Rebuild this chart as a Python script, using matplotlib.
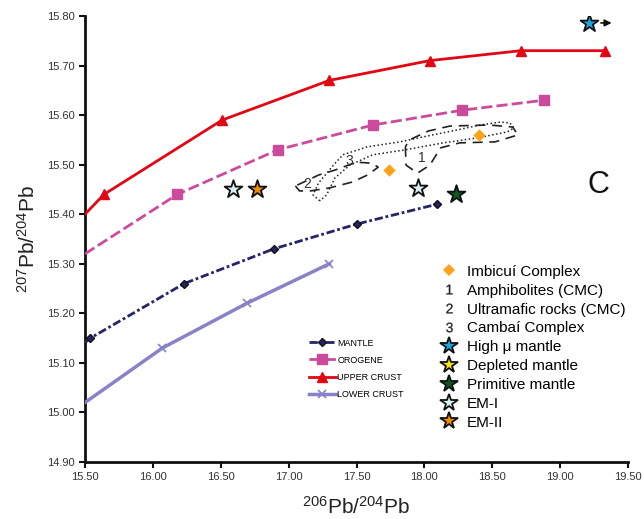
import matplotlib
matplotlib.use("Agg")
import matplotlib.pyplot as plt
from matplotlib.lines import Line2D
import numpy as np

plt.rcParams['font.family'] = ['Liberation Sans', 'DejaVu Sans']
plt.rcParams['mathtext.fontset'] = 'custom'
plt.rcParams['mathtext.rm'] = 'Liberation Sans'
plt.rcParams['mathtext.it'] = 'Liberation Sans'

# ---- model curves (206Pb/204Pb, 207Pb/204Pb) ----
mantle_x = [15.50, 15.54, 16.23, 16.89, 17.50, 18.09]
mantle_y = [15.141, 15.15, 15.26, 15.33, 15.38, 15.42]
orogene_x = [15.50, 16.18, 16.92, 17.62, 18.28, 18.88]
orogene_y = [15.32, 15.44, 15.53, 15.58, 15.61, 15.63]
upper_x = [15.50, 15.64, 16.51, 17.30, 18.04, 18.71, 19.33]
upper_y = [15.40, 15.44, 15.59, 15.67, 15.71, 15.73, 15.73]
lower_x = [15.50, 16.07, 16.69, 17.30]
lower_y = [15.02, 15.13, 15.22, 15.30]

# ---- samples / reservoirs ----
imbicui_x = [17.74, 18.40]
imbicui_y = [15.49, 15.56]
em1_x = [16.59, 17.95]
em1_y = [15.45, 15.453]
em2_x = [16.77]
em2_y = [15.45]
prim_x = [18.23]
prim_y = [15.44]
highmu_x = [19.21]
highmu_y = [15.786]

# ---- fields ----
f3_x = [17.23, 17.18, 17.22, 17.33, 17.40, 17.58, 17.82, 18.06, 18.24, 18.41, 18.56, 18.63,
        18.66, 18.61, 18.39, 18.14, 17.86, 17.62, 17.45, 17.34, 17.28, 17.23]
f3_y = [15.427, 15.439, 15.463, 15.499, 15.520, 15.536, 15.546, 15.560, 15.570, 15.580, 15.586, 15.584,
        15.574, 15.566, 15.554, 15.544, 15.530, 15.520, 15.499, 15.473, 15.439, 15.427]
f1_x = [17.86, 17.865, 17.95, 18.04, 18.12, 18.26, 18.52, 18.69, 18.65, 18.48, 18.19, 18.03, 17.89, 17.86]
f1_y = [15.536, 15.499, 15.483, 15.499, 15.534, 15.544, 15.546, 15.560, 15.576, 15.580, 15.578, 15.568, 15.550, 15.536]
f2_x = [17.05, 17.08, 17.16, 17.30, 17.47, 17.58, 17.66, 17.61, 17.50, 17.34, 17.22, 17.05]
f2_y = [15.457, 15.447, 15.447, 15.453, 15.465, 15.479, 15.495, 15.503, 15.505, 15.489, 15.479, 15.457]

xticks = [15.5, 16.0, 16.5, 17.0, 17.5, 18.0, 18.5, 19.0, 19.5]
yticks = [14.9, 15.0, 15.1, 15.2, 15.3, 15.4, 15.5, 15.6, 15.7, 15.8]

fig = plt.figure(figsize=(6.44, 5.19), dpi=100)
ax = fig.add_axes([85/644, 57/519, 543/644, 446/519])

c_mantle = '#23246a'
c_orog = '#cc4a9c'
c_upper = '#e30613'
c_lower = '#8783c8'

l_m, = ax.plot(mantle_x, mantle_y, color=c_mantle, lw=2, dashes=(3, 1, 1, 1),
               marker='D', ms=4.5, mfc=c_mantle, mec='#111', markevery=list(range(1, len(mantle_x))),
               label='MANTLE', zorder=3)
l_o, = ax.plot(orogene_x, orogene_y, color=c_orog, lw=2, dashes=(4, 1.5),
               marker='s', ms=6.5, mfc=c_orog, mec=c_orog, markevery=list(range(1, len(orogene_x))),
               label='OROGENE', zorder=3)
l_u, = ax.plot(upper_x, upper_y, color=c_upper, lw=2, marker='^', ms=7, mfc=c_upper, mec=c_upper,
               markevery=list(range(1, len(upper_x))), label='UPPER CRUST', zorder=3)
l_l, = ax.plot(lower_x, lower_y, color=c_lower, lw=2.5, marker='x', ms=6, mew=1.2,
               markevery=list(range(1, len(lower_x))), label='LOWER CRUST', zorder=3)

# fields
ax.plot(f3_x, f3_y, color='#222', lw=1.1, linestyle=(0, (1, 1.6)), zorder=2)
ax.plot(f1_x, f1_y, color='#222', lw=1.2, dashes=(6, 4), zorder=2)
ax.plot(f2_x, f2_y, color='#222', lw=1.2, dashes=(6, 4), zorder=2)
ax.text(17.45, 15.507, '3', fontsize=10, color='#333', ha='center', va='center')
ax.text(17.98, 15.513, '1', fontsize=10, color='#333', ha='center', va='center')
ax.text(17.14, 15.461, '2', fontsize=10, color='#333', ha='center', va='center')

ax.scatter(imbicui_x, imbicui_y, marker='D', s=40, color='#ffa21a', zorder=4, linewidths=0)
star = dict(marker='*', s=180, edgecolors='#111', linewidths=1.3, zorder=5)
ax.scatter(em1_x, em1_y, facecolors='#dbeef0', **star)
ax.scatter(em2_x, em2_y, facecolors='#f28c00', **star)
ax.scatter(prim_x, prim_y, facecolors='#0b5a22', **star)
ax.scatter(highmu_x, highmu_y, facecolors='#1aa6e0', **star)
ax.annotate('', xy=(highmu_x[0] + 0.19, highmu_y[0]), xytext=(highmu_x[0] + 0.07, highmu_y[0]),
            arrowprops=dict(arrowstyle='-|>', color='#111', lw=1.2, mutation_scale=10))

ax.text(19.28, 15.459, 'C', fontsize=22, color='#111', ha='center', va='center')

ax.set_xlim(15.5, 19.5)
ax.set_ylim(14.9, 15.8)
ax.set_xticks(xticks)
ax.set_yticks(yticks)
ax.set_xticklabels(['%.2f' % v for v in xticks])
ax.set_yticklabels(['%.2f' % v for v in yticks])
for s in ['top', 'right']:
    ax.spines[s].set_visible(False)
for s in ['left', 'bottom']:
    ax.spines[s].set_linewidth(2)
    ax.spines[s].set_color('#111')
ax.tick_params(axis='both', direction='out', length=4, width=1.5, labelsize=8, labelcolor='#333', color='#111')
ax.set_xlabel(r'$^{206}$Pb/$^{204}$Pb', fontsize=15, color='#222', labelpad=10)
ax.set_ylabel(r'$^{207}$Pb/$^{204}$Pb', fontsize=15, color='#222', labelpad=6)

leg1 = ax.legend(handles=[l_m, l_o, l_u, l_l], loc='upper left', bbox_to_anchor=(0.405, 0.285),
                 frameon=False, fontsize=6.5, handlelength=3, handletextpad=0.2, labelspacing=0.9,
                 borderaxespad=0)
ax.add_artist(leg1)

h2 = [
    Line2D([], [], marker='D', ls='None', ms=6, color='#ffa21a', mew=0),
    Line2D([], [], marker='$1$', ls='None', ms=7, color='#222', mew=0.2),
    Line2D([], [], marker='$2$', ls='None', ms=7, color='#222', mew=0.2),
    Line2D([], [], marker='$3$', ls='None', ms=7, color='#222', mew=0.2),
    Line2D([], [], marker='*', ls='None', ms=13, mfc='#1aa6e0', mec='#111', mew=1.3),
    Line2D([], [], marker='*', ls='None', ms=13, mfc='#f5e21b', mec='#111', mew=1.3),
    Line2D([], [], marker='*', ls='None', ms=13, mfc='#0b5a22', mec='#111', mew=1.3),
    Line2D([], [], marker='*', ls='None', ms=13, mfc='#dbeef0', mec='#111', mew=1.3),
    Line2D([], [], marker='*', ls='None', ms=13, mfc='#f28c00', mec='#111', mew=1.3),
]
labels2 = ['Imbicuí Complex', 'Amphibolites (CMC)', 'Ultramafic rocks (CMC)', 'Cambaí Complex',
           'High μ mantle', 'Depleted mantle', 'Primitive mantle', 'EM-I', 'EM-II']
leg2 = ax.legend(handles=h2, labels=labels2, loc='upper left', bbox_to_anchor=(0.643, 0.456),
                 frameon=False, fontsize=11, handlelength=1.2, handletextpad=0.55, labelspacing=0.32,
                 borderaxespad=0)

fig.savefig('out.png', dpi=100)
